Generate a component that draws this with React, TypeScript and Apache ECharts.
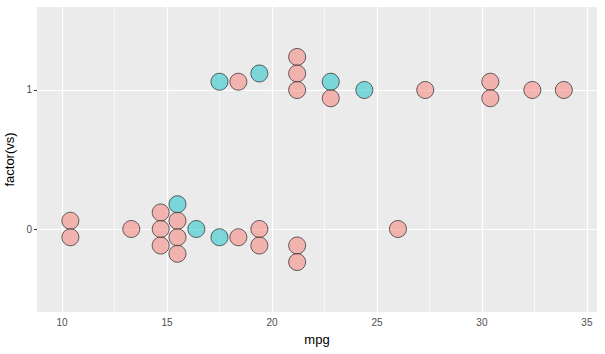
import React, { useEffect, useRef } from "react";
import * as echarts from "echarts";

// am = 0 (pink) dots: mpg, vs, stack position (in half-dot steps)
const am0Mpg = [10.4, 10.4, 13.3, 14.7, 14.7, 14.7, 15.5, 15.5, 15.5, 18.4, 19.4, 19.4, 21.2, 21.2, 26.0,
  18.4, 21.2, 21.2, 21.2, 22.8, 27.3, 30.4, 30.4, 32.4, 33.9];
const am0Vs = [0, 0, 0, 0, 0, 0, 0, 0, 0, 0, 0, 0, 0, 0, 0,
  1, 1, 1, 1, 1, 1, 1, 1, 1, 1];
const am0Stack = [1, -1, 0, 2, 0, -2, 1, -1, -3, -1, 0, -2, -2, -4, 0,
  1, 4, 2, 0, -1, 0, 1, -1, 0, 0];

// am = 1 (blue) dots
const am1Mpg = [15.5, 16.4, 17.5, 17.5, 19.4, 22.8, 24.4];
const am1Vs = [0, 0, 0, 1, 1, 1, 1];
const am1Stack = [3, 0, -1, 1, 2, 1, 0];

const xMajorTicks = [10, 15, 20, 25, 30, 35];
const xMinorTicks = [12.5, 17.5, 22.5, 27.5, 32.5];
const yTicks = [0, 1];
const yTickLabels = ["0", "1"];

const HALF_STEP = 0.0594;

function build(mpg: number[], vs: number[], stack: number[]) {
  return mpg.map((m, i) => [m, vs[i] + stack[i] * HALF_STEP]);
}

export default function App() {
  const ref = useRef<HTMLDivElement>(null);
  useEffect(() => {
    if (!ref.current) return;
    const chart = echarts.init(ref.current, undefined, { renderer: "svg" });
    const font = "'Liberation Sans', Arial, sans-serif";
    chart.setOption({
      animation: false,
      grid: {
        left: 37, right: 8, top: 7, bottom: 42,
        containLabel: false, outerBoundsMode: "none",
        show: true, backgroundColor: "#EBEBEB", borderWidth: 0,
      },
      xAxis: {
        type: "value", min: 8.81, max: 35.48,
        name: "mpg", nameLocation: "middle", nameGap: 21,
        nameTextStyle: { color: "#000", fontSize: 13, fontFamily: font },
        axisLine: { show: false },
        axisTick: { show: true, length: 3, lineStyle: { color: "#333" }, customValues: xMajorTicks },
        axisLabel: {
          show: true, customValues: xMajorTicks, color: "#4D4D4D", fontSize: 10,
          fontFamily: font, margin: 5, formatter: (v: number) => String(v),
        },
        splitLine: { show: false },
      },
      yAxis: {
        type: "value", min: -0.597, max: 1.597,
        name: "factor(vs)", nameLocation: "middle", nameGap: 19, nameRotate: 90,
        nameTextStyle: { color: "#000", fontSize: 13, fontFamily: font },
        axisLine: { show: false },
        axisTick: { show: true, length: 3, lineStyle: { color: "#333" }, customValues: yTicks },
        axisLabel: {
          show: true, customValues: yTicks, color: "#4D4D4D", fontSize: 10,
          fontFamily: font, margin: 5,
          formatter: (v: number) => yTickLabels[yTicks.indexOf(Math.round(v))] ?? "",
        },
        splitLine: { show: false },
      },
      series: [
        {
          type: "scatter", data: [], z: 1, silent: true,
          markLine: {
            silent: true, symbol: "none", z: 1, label: { show: false },
            data: [
              ...xMinorTicks.map((v) => ({ xAxis: v, lineStyle: { color: "#fff", width: 0.6, type: "solid" } })),
              ...xMajorTicks.map((v) => ({ xAxis: v, lineStyle: { color: "#fff", width: 1.2, type: "solid" } })),
              ...yTicks.map((v) => ({ yAxis: v, lineStyle: { color: "#fff", width: 1.2, type: "solid" } })),
            ],
          },
        },
        {
          type: "scatter", z: 3, symbolSize: 17,
          data: build(am0Mpg, am0Vs, am0Stack),
          itemStyle: { color: "rgba(248,118,109,0.6)", borderColor: "#3a3a3a", borderWidth: 1 },
        },
        {
          type: "scatter", z: 3, symbolSize: 17,
          data: build(am1Mpg, am1Vs, am1Stack),
          itemStyle: { color: "rgba(0,191,196,0.6)", borderColor: "#3a3a3a", borderWidth: 1 },
        },
      ],
    });
    return () => chart.dispose();
  }, []);
  return <div ref={ref} style={{ width: 605, height: 354, position: "absolute", left: 0, top: 0 }} />;
}
